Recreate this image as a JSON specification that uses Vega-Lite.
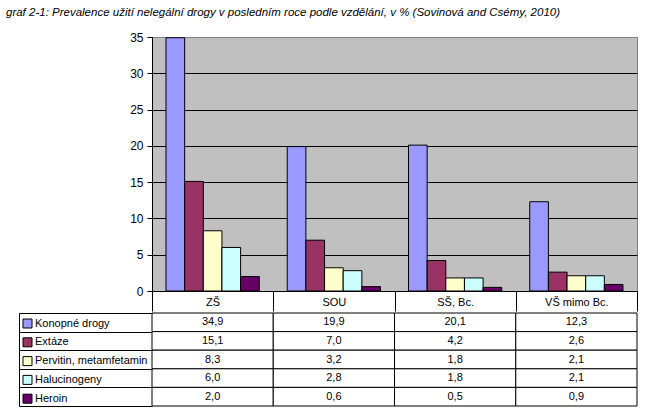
{
  "$schema": "https://vega.github.io/schema/vega-lite/v6.json",
  "padding": {"left": 6, "top": 7, "right": 10, "bottom": 5},
  "background": "white",
  "title": {
    "text": "graf 2-1: Prevalence užití nelegální drogy v posledním roce podle vzdělání, v % (Sovinová and Csémy, 2010)",
    "anchor": "start",
    "fontStyle": "italic",
    "fontWeight": "normal",
    "fontSize": 11.5,
    "font": "Liberation Sans",
    "color": "black",
    "offset": 12
  },
  "config": {
    "font": "Liberation Sans",
    "locale": {"number": {"decimal": ",", "thousands": " ", "grouping": [3], "currency": ["", " Kč"]}}
  },
  "data": {
    "values": [
      {"level": "ZŠ", "drug": "Konopné drogy", "value": 34.9},
      {"level": "ZŠ", "drug": "Extáze", "value": 15.1},
      {"level": "ZŠ", "drug": "Pervitin, metamfetamin", "value": 8.3},
      {"level": "ZŠ", "drug": "Halucinogeny", "value": 6.0},
      {"level": "ZŠ", "drug": "Heroin", "value": 2.0},
      {"level": "SOU", "drug": "Konopné drogy", "value": 19.9},
      {"level": "SOU", "drug": "Extáze", "value": 7.0},
      {"level": "SOU", "drug": "Pervitin, metamfetamin", "value": 3.2},
      {"level": "SOU", "drug": "Halucinogeny", "value": 2.8},
      {"level": "SOU", "drug": "Heroin", "value": 0.6},
      {"level": "SŠ, Bc.", "drug": "Konopné drogy", "value": 20.1},
      {"level": "SŠ, Bc.", "drug": "Extáze", "value": 4.2},
      {"level": "SŠ, Bc.", "drug": "Pervitin, metamfetamin", "value": 1.8},
      {"level": "SŠ, Bc.", "drug": "Halucinogeny", "value": 1.8},
      {"level": "SŠ, Bc.", "drug": "Heroin", "value": 0.5},
      {"level": "VŠ mimo Bc.", "drug": "Konopné drogy", "value": 12.3},
      {"level": "VŠ mimo Bc.", "drug": "Extáze", "value": 2.6},
      {"level": "VŠ mimo Bc.", "drug": "Pervitin, metamfetamin", "value": 2.1},
      {"level": "VŠ mimo Bc.", "drug": "Halucinogeny", "value": 2.1},
      {"level": "VŠ mimo Bc.", "drug": "Heroin", "value": 0.9}
    ]
  },
  "spacing": 0,
  "resolve": {"legend": {"color": "independent"}},
  "vconcat": [
    {
      "width": 485,
      "height": 254,
      "view": {"fill": "#C0C0C0", "stroke": "#808080"},
      "mark": {"type": "bar", "stroke": "black", "strokeWidth": 1},
      "encoding": {
        "x": {
          "field": "level", "type": "nominal",
          "sort": ["ZŠ", "SOU", "SŠ, Bc.", "VŠ mimo Bc."],
          "scale": {"paddingInner": 0, "paddingOuter": 0},
          "axis": {
            "title": null, "labelAngle": 0, "labelFontSize": 11, "labelColor": "black",
            "domainColor": "black", "tickColor": "black", "tickSize": 20, "tickBand": "extent",
            "labelPadding": -15, "grid": false
          }
        },
        "xOffset": {
          "field": "drug", "type": "nominal",
          "sort": ["Konopné drogy", "Extáze", "Pervitin, metamfetamin", "Halucinogeny", "Heroin"],
          "scale": {"paddingInner": 0, "paddingOuter": 0.75}
        },
        "y": {
          "field": "value", "type": "quantitative",
          "scale": {"domain": [0, 35], "nice": false},
          "axis": {
            "title": null, "values": [0, 5, 10, 15, 20, 25, 30, 35],
            "labelFontSize": 12, "labelColor": "black", "labelPadding": 4,
            "domainColor": "black", "tickColor": "black", "tickSize": 5,
            "grid": true, "minExtent": 0,
            "gridColor": {"condition": {"test": "datum.value === 35", "value": "#808080"}, "value": "black"},
            "gridOpacity": 1
          }
        },
        "color": {
          "field": "drug", "type": "nominal",
          "scale": {
            "domain": ["Konopné drogy", "Extáze", "Pervitin, metamfetamin", "Halucinogeny", "Heroin"],
            "range": ["#9999FF", "#993366", "#FFFFCC", "#CCFFFF", "#660066"]
          },
          "legend": null
        }
      }
    },
    {
      "width": 485,
      "height": 93,
      "view": {"stroke": null},
      "encoding": {
        "x": {
          "field": "level", "type": "nominal",
          "sort": ["ZŠ", "SOU", "SŠ, Bc.", "VŠ mimo Bc."],
          "scale": {"paddingInner": 0, "paddingOuter": 0},
          "axis": null
        },
        "y": {
          "field": "drug", "type": "nominal",
          "sort": ["Konopné drogy", "Extáze", "Pervitin, metamfetamin", "Halucinogeny", "Heroin"],
          "scale": {"paddingInner": 0, "paddingOuter": 0},
          "axis": {
            "title": null, "labels": false, "orient": "left", "offset": 133,
            "tickSize": -133, "tickBand": "extent", "tickColor": "black",
            "domainColor": "black", "grid": false, "minExtent": 13, "maxExtent": 400
          }
        }
      },
      "layer": [
        {"mark": {"type": "rect", "fill": "white", "stroke": "black", "strokeWidth": 1}},
        {
          "mark": {"type": "text", "fontSize": 11, "color": "black"},
          "encoding": {"text": {"field": "value", "type": "quantitative", "format": ".1f"}}
        },
        {
          "mark": {"type": "square", "opacity": 0},
          "encoding": {
            "color": {
              "field": "drug", "type": "nominal",
              "scale": {
                "domain": ["Konopné drogy", "Extáze", "Pervitin, metamfetamin", "Halucinogeny", "Heroin"],
                "range": ["#9999FF", "#993366", "#FFFFCC", "#CCFFFF", "#660066"]
              },
              "legend": {
                "title": null, "orient": "none", "legendX": -130, "legendY": 5,
                "direction": "vertical",
                "symbolType": "square", "symbolSize": 81, "symbolStrokeColor": "black",
                "symbolStrokeWidth": 1, "symbolOpacity": 1,
                "labelFontSize": 11, "labelColor": "black", "labelOffset": 2,
                "rowPadding": 5.8, "padding": 0, "labelLimit": 200
              }
            }
          }
        }
      ]
    }
  ]
}
